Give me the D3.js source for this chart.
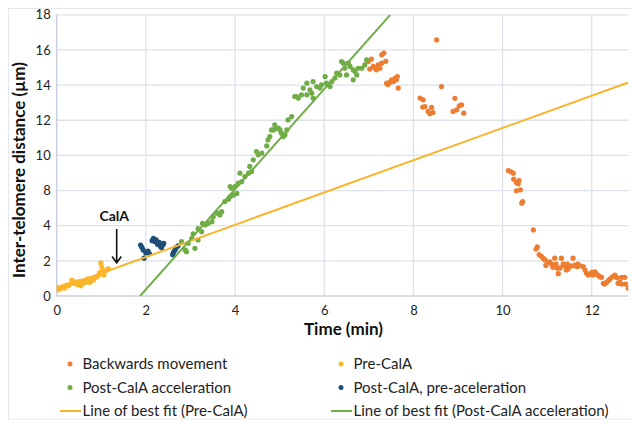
<!DOCTYPE html>
<html><head><meta charset="utf-8">
<script src="https://cdn.jsdelivr.net/npm/d3@7/dist/d3.min.js"></script>
<style>
html,body{margin:0;padding:0;background:#fff;}
svg{display:block;font-family:Lato,"Noto Sans",sans-serif;}
</style></head>
<body><svg id="chart" width="632" height="424"></svg>
<script>
// ---------- data ----------
const xTicks = [0, 2, 4, 6, 8, 10, 12];
const yTicks = [0, 2, 4, 8, 10, 12, 14, 16, 18];
const xMax = 12.82;

const backwardsMovement = [
  [6.99,15.34],[7.06,15.48],[7.02,14.91],[7.10,15.06],[7.14,14.96],[7.17,14.87],[7.21,15.15],[7.25,14.96],
  [7.29,15.25],[7.29,15.72],[7.34,15.82],[7.38,15.35],[7.40,14.11],[7.43,14.03],[7.47,14.15],[7.51,14.30],
  [7.55,14.20],[7.59,14.40],[7.62,14.30],[7.64,14.49],[7.66,13.83],[8.52,16.57],[8.63,13.92],
  [8.15,13.26],[8.22,13.16],[8.26,12.78],[8.21,12.75],[8.33,12.50],[8.37,12.37],[8.41,12.73],[8.44,12.44],
  [8.93,13.25],[9.03,12.82],[9.08,12.88],[8.97,12.59],[8.89,12.50],[9.13,12.40],
  [10.13,9.14],[10.18,9.08],[10.24,8.99],[10.25,8.65],[10.31,8.46],[10.37,8.57],[10.35,8.38],[10.31,7.97],
  [10.40,8.04],[10.43,6.56],[10.45,6.74],[10.69,3.76],[10.75,2.67],[10.78,2.79],[10.82,2.36],[10.87,2.26],
  [10.91,2.15],[10.95,2.05],[10.97,1.74],[11.02,1.93],[11.06,1.95],[11.10,1.81],[11.13,1.63],[11.17,2.15],
  [11.20,1.82],[11.23,1.58],[11.25,1.27],[11.29,1.60],[11.32,2.15],[11.36,1.81],[11.40,1.71],[11.43,1.48],
  [11.45,1.82],[11.47,1.54],[11.51,1.71],[11.55,1.70],[11.58,2.15],[11.62,1.76],[11.67,1.67],[11.69,1.82],
  [11.74,1.72],[11.81,1.67],[11.85,1.48],[11.88,1.31],[11.92,1.19],[11.96,1.24],[12.00,1.35],[12.03,1.19],
  [12.07,1.38],[12.09,1.29],[12.14,1.19],[12.18,1.10],[12.22,1.06],[12.26,0.72],[12.29,0.68],[12.33,0.77],
  [12.37,0.87],[12.41,0.97],[12.47,1.10],[12.52,1.19],[12.56,1.05],[12.59,0.72],[12.63,0.81],[12.67,0.68],
  [12.67,1.06],[12.74,1.06],[12.76,0.68],[12.82,0.44]
];

const preCalA = [
  [0.00,0.50],[0.02,0.34],[0.05,0.45],[0.08,0.40],[0.12,0.50],[0.15,0.55],[0.18,0.45],[0.22,0.62],
  [0.26,0.58],[0.30,0.68],[0.34,0.90],[0.38,0.72],[0.42,0.80],[0.46,0.65],[0.50,0.82],[0.54,0.58],
  [0.56,0.85],[0.60,0.72],[0.64,0.90],[0.68,0.80],[0.70,0.98],[0.74,0.78],[0.78,0.95],[0.82,0.90],
  [0.86,1.05],[0.90,1.10],[0.94,1.20],[0.97,1.35],[0.99,1.88],[1.01,1.65],[1.04,1.40],[1.06,1.20],
  [1.10,1.45],[1.13,1.50],[1.16,1.55]
];

const postCalAAcceleration = [
  [2.80,3.09],[2.88,2.62],[2.95,3.00],[3.03,3.28],[3.10,2.71],[3.17,3.19],[3.25,3.66],[3.27,4.27],
  [3.33,4.08],[3.40,4.27],[3.48,4.46],[3.51,5.03],[3.60,5.42],[3.66,5.22],[3.70,5.60],[3.77,6.74],
  [3.85,7.02],[3.89,7.31],[3.92,8.14],[3.96,7.47],[4.04,7.67],[4.07,8.42],[4.15,8.51],[4.11,8.99],
  [4.22,8.80],[4.30,8.99],[4.37,9.08],[4.33,9.37],[4.41,9.75],[4.48,10.22],[4.52,10.03],[4.60,10.13],
  [4.71,10.54],[4.74,10.88],[4.78,11.07],[4.86,11.45],[4.89,11.74],[4.93,11.55],[5.01,11.45],[5.04,11.26],
  [5.08,11.07],[5.12,11.17],[5.16,11.45],[5.19,12.02],[5.27,12.21],[5.34,13.35],[5.42,13.26],[5.49,13.45],
  [5.53,13.83],[5.61,13.45],[5.61,14.11],[5.68,13.73],[5.75,13.26],[5.75,14.20],[5.83,13.92],[5.90,13.83],
  [5.94,14.02],[6.02,14.49],[6.05,14.11],[6.13,13.92],[6.17,14.20],[6.24,14.40],[6.28,14.68],[6.35,14.58],
  [6.39,15.34],[6.46,14.96],[6.50,14.58],[6.58,15.06],[6.65,14.30],[6.65,14.87],[6.69,14.77],[6.76,14.96],
  [6.84,14.96],[6.91,15.15],[6.95,15.43],[6.43,15.25],[6.54,15.25],[6.73,14.58],[5.72,13.54],[5.38,13.35],
  [4.97,11.55],[4.82,11.45],[3.06,3.54],[3.17,3.83],[4.00,8.23],[3.89,8.23],[2.91,2.52]
];

const postCalAPreAcceleration = [
  [1.88,2.90],[1.91,2.78],[1.94,2.62],[1.96,2.15],[2.00,2.45],[2.05,2.55],[2.08,2.40],[2.14,3.15],
  [2.17,3.28],[2.20,3.10],[2.23,3.20],[2.26,2.95],[2.30,3.05],[2.32,2.85],[2.35,2.75],[2.38,2.90],
  [2.40,3.00],[2.60,2.35],[2.62,2.48],[2.65,2.60],[2.68,2.75],[2.72,2.85]
];

const fitPreCalA = [[0, 0.38], [12.82, 14.15]];
const fitPostCalA = [[1.87, 0], [7.48, 18]];

const calALabel = "CalA";
const calAArrow = [[1.345, 3.81], [1.345, 1.89]];

const legendLabels = [
  "Backwards movement", "Pre-CalA",
  "Post-CalA acceleration", "Post-CalA, pre-aceleration",
  "Line of best fit (Pre-CalA)", "Line of best fit (Post-CalA acceleration)"
];

// ---------- style ----------
const C = {orange:"#ED7D31", yellow:"#FBB62B", green:"#70AD47", blue:"#1F4E79", fitY:"#FBB42A", fitG:"#70AD47"};

const svg = d3.select("#chart");
const L = 56.7, R = 628.3, T = 14.8, B = 296;
const step = (B - T) / 8;

const x = d3.scaleLinear().domain([0, xMax]).range([L, R]);
// axis labels skip "6": gridlines equally spaced, so scale is piecewise
const y = d3.scaleLinear().domain([0, 4, 8, 18]).range([B, B - 2*step, B - 3*step, T]);

// chart border
svg.append("rect").attr("x",8.5).attr("y",8.5).attr("width",640).attr("height",410.5)
  .attr("fill","none").attr("stroke","#e4e8ed").attr("stroke-width",1);

// gridlines
svg.append("g").selectAll("line").data(yTicks.filter(d=>d>0)).join("line")
  .attr("x1",L).attr("x2",R).attr("y1",d=>y(d)).attr("y2",d=>y(d))
  .attr("stroke","#dce2e9").attr("stroke-width",1.3);
svg.append("g").selectAll("line").data(xTicks.filter(d=>d>0)).join("line")
  .attr("y1",T).attr("y2",B).attr("x1",d=>x(d)).attr("x2",d=>x(d))
  .attr("stroke","#dce2e9").attr("stroke-width",1.3);

// axes
const yAxis = svg.append("g").attr("transform",`translate(${L},0)`)
  .call(d3.axisLeft(y).tickValues(yTicks).tickSize(0).tickPadding(6).tickFormat(d3.format("d")));
const xAxis = svg.append("g").attr("transform",`translate(0,${B})`)
  .call(d3.axisBottom(x).tickValues(xTicks).tickSize(0).tickPadding(10).tickFormat(d3.format("d")));
[yAxis, xAxis].forEach(g=>{
  g.select(".domain").attr("stroke","#c8d1db").attr("stroke-width",1.5);
  g.selectAll("text").attr("font-family","Lato, 'Noto Sans', sans-serif").attr("font-size",13).attr("fill","#222");
});
yAxis.select(".domain").attr("d",`M0,${T}V${B}`);
xAxis.select(".domain").attr("d",`M${L},0H${R}`);

// clip
svg.append("clipPath").attr("id","plot").append("rect")
  .attr("x",L).attr("y",T).attr("width",R-L).attr("height",B-T);
const plot = svg.append("g").attr("clip-path","url(#plot)");

const series = [
  {data: backwardsMovement, color: C.orange},
  {data: preCalA, color: C.yellow},
  {data: postCalAAcceleration, color: C.green},
  {data: postCalAPreAcceleration, color: C.blue}
];
series.forEach(s=>{
  plot.append("g").selectAll("circle").data(s.data).join("circle")
    .attr("cx",d=>x(d[0])).attr("cy",d=>y(d[1])).attr("r",2.6).attr("fill",s.color);
});

const line = d3.line().x(d=>x(d[0])).y(d=>y(d[1]));
plot.append("path").attr("d",line(fitPreCalA)).attr("fill","none").attr("stroke",C.fitY).attr("stroke-width",2);
plot.append("path").attr("d",line(fitPostCalA)).attr("fill","none").attr("stroke",C.fitG).attr("stroke-width",2);

// CalA annotation
const ax = x(calAArrow[0][0]), ay1 = y(calAArrow[0][1]), ay2 = y(calAArrow[1][1]);
svg.append("text").attr("x",ax-2.4).attr("y",ay1-8).attr("text-anchor","middle")
  .attr("font-size",14).attr("font-weight","bold").attr("fill","#111").text(calALabel);
svg.append("path").attr("d",`M${ax},${ay1}V${ay2}M${ax-4.6},${ay2-6.2}L${ax},${ay2}L${ax+4.6},${ay2-6.2}`)
  .attr("fill","none").attr("stroke","#111").attr("stroke-width",1.6);

// axis titles
svg.append("text").attr("x",(L+R)/2+1).attr("y",335).attr("text-anchor","middle")
  .attr("font-size",17).attr("font-weight","bold").attr("fill","#111").text("Time (min)");
svg.append("text").attr("transform","translate(25,170) rotate(-90)").attr("text-anchor","middle")
  .attr("font-size",17).attr("font-weight","bold").attr("fill","#111").text("Inter-telomere distance (µm)");

// legend
const legendItems = [
  {type:"dot", color:C.orange}, {type:"dot", color:C.yellow},
  {type:"dot", color:C.green}, {type:"dot", color:C.blue},
  {type:"line", color:C.fitY}, {type:"line", color:C.fitG}
];
const colX = [70, 341], rowY = [364, 387.5, 411];
const lg = svg.append("g").attr("font-size",15).attr("fill","#222");
legendItems.forEach((it,i)=>{
  const cx = colX[i%2], cy = rowY[Math.floor(i/2)];
  const g = lg.append("g");
  if (it.type === "dot") {
    g.append("circle").attr("cx",cx).attr("cy",cy).attr("r",2.5).attr("fill",it.color);
  } else {
    g.append("line").attr("x1",cx-10).attr("x2",cx+11).attr("y1",cy).attr("y2",cy)
      .attr("stroke",it.color).attr("stroke-width",2);
  }
  g.append("text").attr("x",cx+12.5).attr("y",cy+5.2).attr("fill","#222").text(legendLabels[i]);
});
</script></body></html>
